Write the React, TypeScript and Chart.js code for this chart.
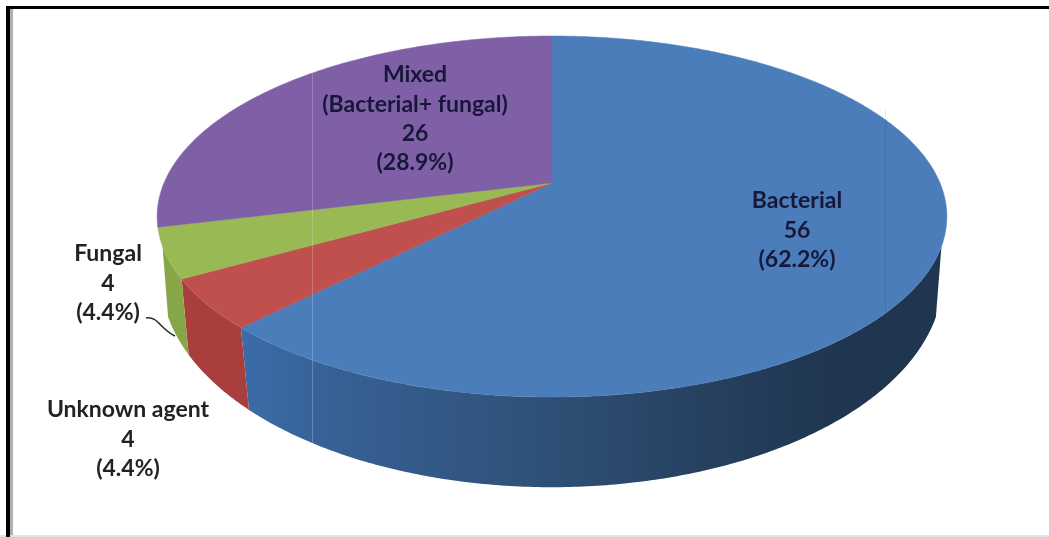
import React, { useEffect, useRef } from "react";
import { Chart, registerables } from "chart.js";

Chart.register(...registerables);

// Infection agent counts, in clockwise order from twelve o'clock.
const categories = ["Bacterial", "Unknown agent", "Fungal", "Mixed"];
const counts = [56, 4, 4, 26];
const percentLabels = ["(62.2%)", "(4.4%)", "(4.4%)", "(28.9%)"];
const faceColors = ["#4a7dba", "#c0504d", "#98b954", "#7f60a6"];
const wallColors = ["#3a6aa6", "#a83f3c", "#87a648", "#5f4880"];

// Extra text lines drawn under a category name.
const nameSuffixes = ["", "", "", "(Bacterial+ fungal)"];

// Centre of each label block and its first text row.
const labelAnchors = [
  { x: 797, y: 201 },
  { x: 128, y: 410 },
  { x: 108, y: 254 },
  { x: 415, y: 75 },
];

type Rim = { cx: number; cy: number; a: number; b: number; k: number };

// Perspective view of the upper and lower circular rims of the disc.
const TOP_RIM: Rim = { cx: 552, cy: 183, a: 388, b: 174.3, k: 0.1857 };
const BOTTOM_RIM: Rim = { cx: 552, cy: 243.5, a: 386, b: 204.7, k: 0.16 };
const WALL_FROM = 0.347;
const WALL_TO = Math.PI - 0.347;

function project(rim: Rim, angle: number): [number, number] {
  const x = Math.cos(angle);
  const y = Math.sin(angle);
  const w = 1 - rim.k * y;
  return [rim.cx + (rim.a * x) / w, rim.cy + (rim.b * y) / w];
}

function traceRim(ctx: CanvasRenderingContext2D, rim: Rim, from: number, to: number) {
  const steps = Math.max(2, Math.ceil(Math.abs(to - from) / 0.01));
  for (let i = 0; i <= steps; i++) {
    const [x, y] = project(rim, from + ((to - from) * i) / steps);
    ctx.lineTo(x, y);
  }
}

function wallFill(ctx: CanvasRenderingContext2D, index: number) {
  if (index !== 0) return wallColors[index];
  const g = ctx.createLinearGradient(245, 0, 945, 0);
  g.addColorStop(0, "#3b6ba8");
  g.addColorStop(0.15, "#365f92");
  g.addColorStop(0.4, "#2f5279");
  g.addColorStop(0.7, "#253e5c");
  g.addColorStop(0.85, "#1f3550");
  g.addColorStop(1, "#1f3550");
  return g;
}

const discPlugin = {
  id: "perspectiveDisc",
  beforeDatasetsDraw(chart: Chart) {
    const ctx = chart.ctx;
    const arcs = chart.getDatasetMeta(0).data as any[];

    ctx.save();
    ctx.fillStyle = "#ffffff";
    ctx.fillRect(0, 0, chart.width, chart.height);

    // Side wall of the disc, only where it faces the viewer.
    arcs.forEach((arc, i) => {
      const from = Math.max(arc.startAngle, WALL_FROM);
      const to = Math.min(arc.endAngle, WALL_TO);
      if (to <= from) return;
      const [sx, sy] = project(TOP_RIM, from);
      ctx.beginPath();
      ctx.moveTo(sx, sy);
      traceRim(ctx, TOP_RIM, from, to);
      traceRim(ctx, BOTTOM_RIM, to, from);
      ctx.closePath();
      ctx.fillStyle = wallFill(ctx, i);
      ctx.fill();
    });

    // Upper face slices.
    arcs.forEach((arc, i) => {
      ctx.beginPath();
      ctx.moveTo(TOP_RIM.cx, TOP_RIM.cy);
      traceRim(ctx, TOP_RIM, arc.startAngle, arc.endAngle);
      ctx.closePath();
      ctx.fillStyle = faceColors[i];
      ctx.strokeStyle = faceColors[i];
      ctx.lineWidth = 0.5;
      ctx.fill();
      ctx.stroke();
    });

    // Panel seams running through the graphic.
    ctx.fillStyle = "rgba(255,255,255,0.22)";
    ctx.fillRect(312, 60, 1, 396);
    ctx.fillStyle = "rgba(20,30,50,0.1)";
    ctx.fillRect(885, 110, 1, 277);

    // Frame along the top and left edges, hairline along the bottom.
    ctx.fillStyle = "#e4e4e4";
    ctx.fillRect(0, 535, chart.width, 2);
    ctx.fillStyle = "#b0b0b0";
    ctx.fillRect(10, 9, 3, 526);
    ctx.fillStyle = "#000000";
    ctx.fillRect(6, 6, chart.width - 6, 3);
    ctx.fillRect(6, 6, 4, 531);

    // Leader from the Fungal label to its wall.
    ctx.beginPath();
    ctx.moveTo(146, 318);
    ctx.bezierCurveTo(158, 316, 160, 329, 175, 336);
    ctx.strokeStyle = "#2b2b2b";
    ctx.lineWidth = 1.5;
    ctx.stroke();

    // Labels: name, count, share.
    ctx.font = 'bold 23px Lato, "Open Sans", sans-serif';
    ctx.textAlign = "center";
    ctx.textBaseline = "middle";
    categories.forEach((name, i) => {
      const lines = [name];
      if (nameSuffixes[i]) lines.push(nameSuffixes[i]);
      lines.push(String(counts[i]), percentLabels[i]);
      const onFace = i === 0 || i === 3;
      ctx.fillStyle = onFace ? "#17173a" : "#222222";
      lines.forEach((text, row) => {
        ctx.fillText(text, labelAnchors[i].x, labelAnchors[i].y + row * 29.3);
      });
    });
    ctx.restore();
    return false;
  },
};

export default function App() {
  const ref = useRef<HTMLCanvasElement>(null);
  useEffect(() => {
    const chart = new Chart(ref.current as HTMLCanvasElement, {
      type: "pie",
      data: {
        labels: categories,
        datasets: [{ data: counts, backgroundColor: faceColors, borderWidth: 0 }],
      },
      options: {
        responsive: false,
        animation: false,
        plugins: { legend: { display: false }, tooltip: { enabled: false } },
      },
      plugins: [discPlugin as any],
    });
    return () => chart.destroy();
  }, []);
  return (
    <div style={{ position: "absolute", left: 0, top: 0, width: 1049, height: 537 }}>
      <canvas ref={ref} width={1049} height={537} style={{ display: "block" }} />
    </div>
  );
}
